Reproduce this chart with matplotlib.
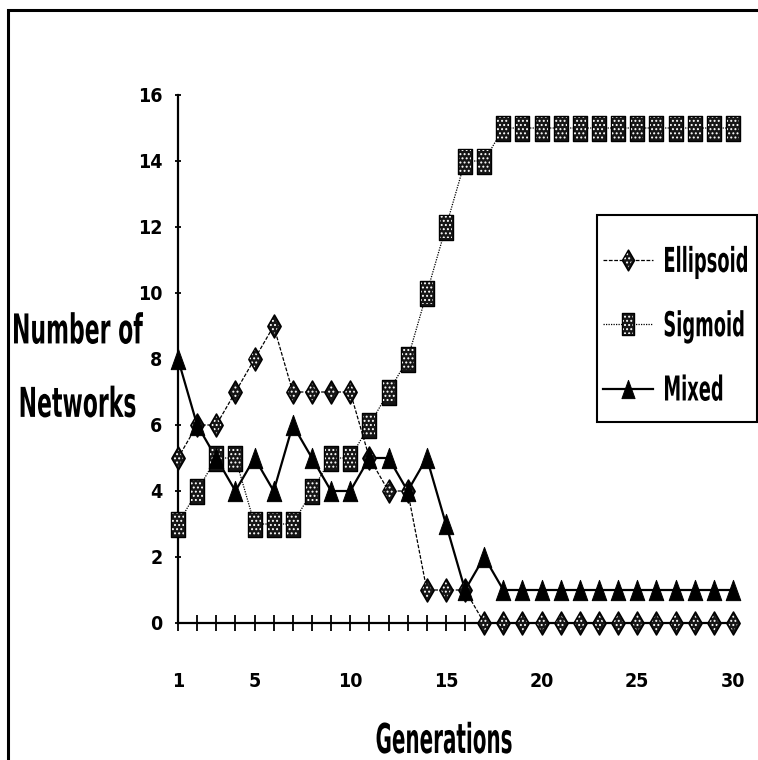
import matplotlib
matplotlib.use("Agg")
import matplotlib.pyplot as plt
from matplotlib import font_manager as fm
from matplotlib.font_manager import FontProperties
from matplotlib.textpath import TextPath
from matplotlib.path import Path
from matplotlib.patches import Rectangle
from matplotlib.patheffects import AbstractPathEffect
from matplotlib.transforms import Affine2D
from matplotlib.legend_handler import HandlerTuple

# ---------------- data ----------------
generations = [1, 2, 3, 4, 5, 6, 7, 8, 9, 10, 11, 12, 13, 14, 15,
               16, 17, 18, 19, 20, 21, 22, 23, 24, 25, 26, 27, 28, 29, 30]
ellipsoid = [5, 6, 6, 7, 8, 9, 7, 7, 7, 7, 5, 4, 4, 1, 1,
             1, 0, 0, 0, 0, 0, 0, 0, 0, 0, 0, 0, 0, 0, 0]
sigmoid = [3, 4, 5, 5, 3, 3, 3, 4, 5, 5, 6, 7, 8, 10, 12,
           14, 14, 15, 15, 15, 15, 15, 15, 15, 15, 15, 15, 15, 15, 15]
mixed = [8, 6, 5, 4, 5, 4, 6, 5, 4, 4, 5, 5, 4, 5, 3,
         1, 2, 1, 1, 1, 1, 1, 1, 1, 1, 1, 1, 1, 1, 1]
series_names = ["Ellipsoid", "Sigmoid", "Mixed"]
x_tick_positions = [1, 5, 10, 15, 20, 25, 30]
x_tick_labels = ["1", "5", "10", "15", "20", "25", "30"]
y_ticks = [0, 2, 4, 6, 8, 10, 12, 14, 16]
y_tick_labels = ["0", "2", "4", "6", "8", "10", "12", "14", "16"]
y_label = "Number of\nNetworks"
x_label = "Generations"

# ---------------- fonts ----------------
names = {f.name for f in fm.fontManager.ttflist}
if "Liberation Sans Narrow" in names:
    FAM, STR = "Liberation Sans Narrow", "normal"
else:
    FAM, STR = "DejaVu Sans", "condensed"
plt.rcParams["font.family"] = [FAM, "DejaVu Sans"]
plt.rcParams["font.weight"] = "bold"
plt.rcParams["font.stretch"] = STR
plt.rcParams["hatch.color"] = "white"
plt.rcParams["hatch.linewidth"] = 0.9

W, H, DPI = 758, 760, 100
PX = DPI / 72.0


def fx(px):
    return px / W


def fy(py):
    return 1 - py / H


class Stretch(AbstractPathEffect):
    """Draw text path stretched vertically about its baseline."""

    def __init__(self, sy=1.0, dy=0.0):
        super().__init__((0, 0))
        self.sy = sy
        self.dy = dy

    def draw_path(self, renderer, gc, tpath, affine, rgbFace=None):
        aff = Affine2D().scale(1.0, self.sy) + affine + Affine2D().translate(0, self.dy)
        renderer.draw_path(gc, tpath, aff, rgbFace)


fp_head = FontProperties(family=[FAM, "DejaVu Sans"], weight="bold", stretch=STR)


def fit(s, width_px, cap_px):
    e = TextPath((0, 0), s, size=100, prop=fp_head).get_extents()
    size = 100 * width_px / (e.width * PX)
    cap = TextPath((0, 0), "H", size=size, prop=fp_head).get_extents().height * PX
    return size, cap_px / cap, e.x0 * size / 100 * PX


def metrics(size):
    asc = TextPath((0, 0), "l", size=size, prop=fp_head).get_extents().y1 * PX
    d = -TextPath((0, 0), "p", size=size, prop=fp_head).get_extents().y0 * PX
    return asc, d


# ---------------- figure ----------------
fig = plt.figure(figsize=(W / DPI, H / DPI), dpi=DPI)
ax = fig.add_axes([fx(178), fy(623), fx(733) - fx(178), fy(95) - fy(623)])

diamond = Path([(0, 0.5), (0.29, 0), (0, -0.5), (-0.29, 0), (0, 0.5)], closed=True)
square = Path([(-0.27, -0.5), (0.27, -0.5), (0.27, 0.5), (-0.27, 0.5), (-0.27, -0.5)], closed=True)
triangle = Path([(-0.36, -0.5), (0.36, -0.5), (0, 0.5), (-0.36, -0.5)], closed=True)

DARK = "#161616"
l_e, = ax.plot(generations, ellipsoid, color="black", lw=0.9, ls=(0, (3, 1.3)), zorder=2, clip_on=False)
sc_e = ax.scatter(generations, ellipsoid, s=16.6 ** 2, marker=diamond, facecolors=DARK,
                  edgecolors="black", linewidths=1.1, zorder=3, clip_on=False)
ov_e = ax.scatter(generations, ellipsoid, s=12.5 ** 2, marker=diamond, facecolors="none",
                  edgecolors="white", linewidths=0, hatch="....", zorder=3.1, clip_on=False)

l_s, = ax.plot(generations, sigmoid, color="black", lw=0.9, ls=(0, (1, 1)), zorder=2, clip_on=False)
sc_s = ax.scatter(generations, sigmoid, s=18 ** 2, marker=square, facecolors=DARK,
                  edgecolors="black", linewidths=1.0, zorder=3.2, clip_on=False)
ov_s = ax.scatter(generations, sigmoid, s=16 ** 2, marker=square, facecolors="none",
                  edgecolors="white", linewidths=0, hatch="....", zorder=3.3, clip_on=False)

l_m, = ax.plot(generations, mixed, color="black", lw=1.6, ls="-", zorder=2, clip_on=False)
sc_m = ax.scatter(generations, mixed, s=14.6 ** 2, marker=triangle, facecolors="black",
                  edgecolors="black", linewidths=0.7, zorder=3.4, clip_on=False)

ax.set_xlim(1, 30)
ax.set_ylim(0, 16)
for side in ("top", "right"):
    ax.spines[side].set_visible(False)
for side in ("left", "bottom"):
    ax.spines[side].set_linewidth(1.6)

ax.set_xticks(x_tick_positions)
ax.set_xticklabels(x_tick_labels)
ax.set_xticks(generations, minor=True)
ax.tick_params(axis="x", which="both", direction="inout", length=11, width=1.3,
               pad=30, labelsize=14)
ax.set_yticks(y_ticks)
ax.set_yticklabels(y_tick_labels)
ax.tick_params(axis="y", which="both", direction="inout", length=5, width=1.3,
               pad=8.7, labelsize=14)

# y label (two lines, horizontal)
ys, ysy, _ = fit("Number of", 129, 30)
asc, dsc = metrics(ys)
ls = (72 - dsc) / asc
ax.set_ylabel(y_label, rotation=0, fontproperties=fp_head, fontsize=ys, ha="center",
              va="top", linespacing=ls, path_effects=[Stretch(ysy)])
ax.yaxis.set_label_coords(fx(77.5), fy(343 - asc), transform=fig.transFigure)

# x label
xs, xsy, _ = fit(x_label, 135, 30)
ax.set_xlabel(x_label, fontproperties=fp_head, fontsize=xs, ha="center", va="baseline",
              path_effects=[Stretch(xsy)])
ax.xaxis.set_label_coords(fx(444), fy(753), transform=fig.transFigure)

# legend
lsz, lsy, lbear = fit("Ellipsoid", 82, 25)
fs_px = lsz * PX
lasc, ldsc = metrics(lsz)
row_asc = max(lasc, 0.7 * fs_px)
row_h = row_asc + ldsc
line1 = 260.0
B1 = line1 + 0.35 * fs_px
top = B1 - row_asc
dy = -(272 - B1)
handle_len = 50.0
leg = ax.legend([(l_e, sc_e, ov_e), (l_s, sc_s, ov_s), (l_m, sc_m)], series_names,
                handler_map={tuple: HandlerTuple(ndivide=1)},
                loc="upper left", bbox_to_anchor=(fx(603), fy(top)),
                bbox_transform=fig.transFigure, borderaxespad=0, borderpad=0,
                frameon=False, handlelength=handle_len / fs_px,
                handletextpad=(665 - lbear - 603 - handle_len) / fs_px,
                labelspacing=(64.5 - row_h) / fs_px, scatterpoints=1,
                scatteryoffsets=[0.5], markerscale=0.9,
                prop=FontProperties(family=[FAM, "DejaVu Sans"], weight="bold",
                                    stretch=STR, size=lsz))
for t in leg.get_texts():
    t.set_path_effects([Stretch(lsy, dy)])

frame = Rectangle((fx(597), fy(422)), fx(757) - fx(597), fy(215) - fy(422),
                  transform=fig.transFigure, fill=False, edgecolor="black",
                  linewidth=1.5, clip_on=False, zorder=6)
ax.add_patch(frame)

# outer border (top and left edges visible; the rest lies outside the image)
border = Rectangle((fx(7.5), fy(H + 60)), 2.0, fy(9.5) - fy(H + 60),
                   transform=fig.transFigure, fill=False, edgecolor="black",
                   linewidth=2.2, clip_on=False)
fig.add_artist(border)

fig.savefig("out.png", dpi=DPI)
